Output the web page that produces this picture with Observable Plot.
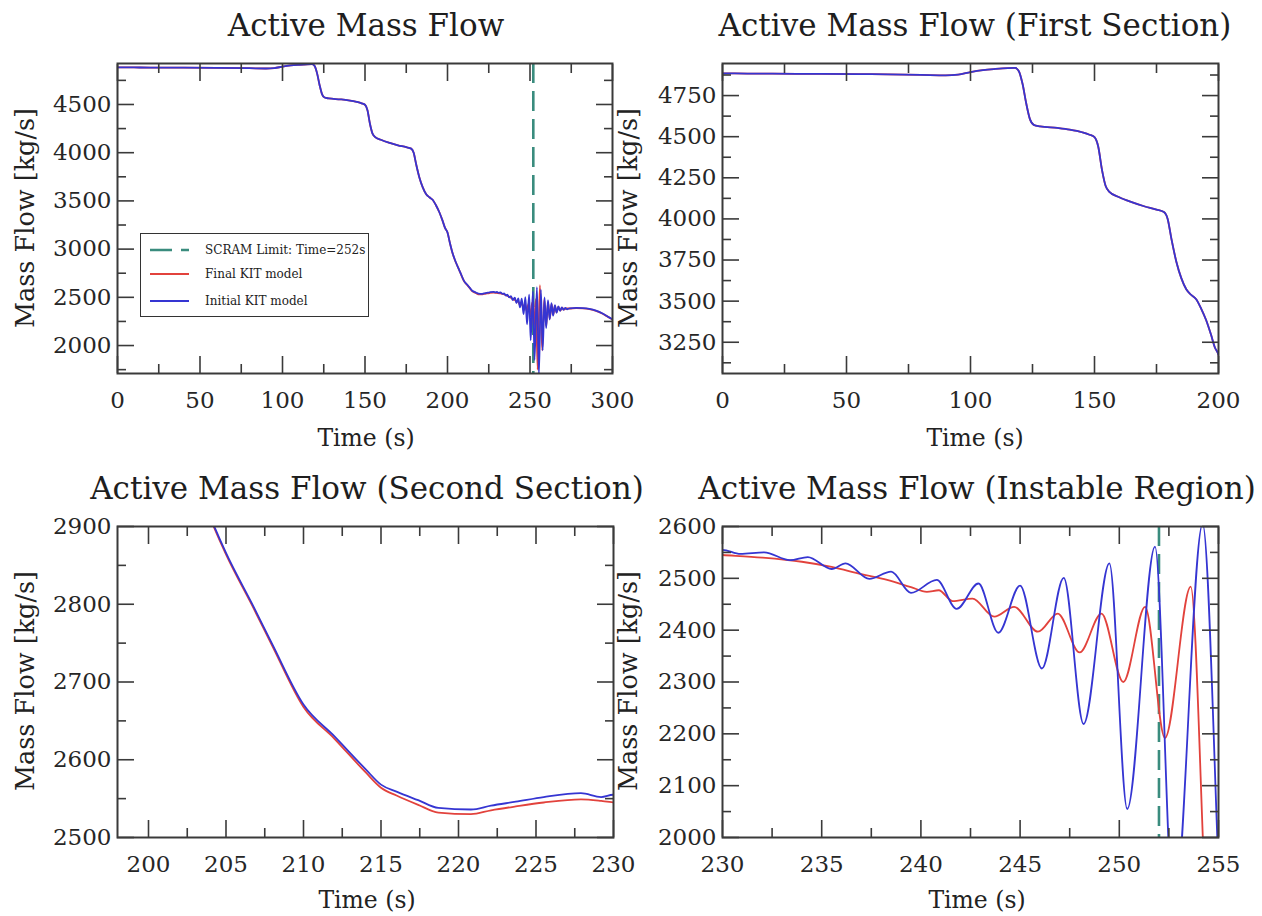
<!DOCTYPE html>
<html>
<head>
<meta charset="utf-8">
<script src="https://cdn.jsdelivr.net/npm/d3@7"></script>
<script src="https://cdn.jsdelivr.net/npm/@observablehq/plot@0.6"></script>
<style>
  html, body { margin: 0; padding: 0; background: #fff; }
  body { width: 1262px; height: 916px; position: relative; overflow: hidden; font-family: "DejaVu Serif", serif; color: #222; }
  .panel { position: absolute; }
  .title { position: absolute; font-size: 31px; line-height: 36px; white-space: nowrap; transform: translateX(-50%); color: #1e1e1e; }
  .xlabel { position: absolute; font-size: 23.5px; line-height: 28px; white-space: nowrap; transform: translate(-50%, -50%); color: #222; }
  .ylabel { position: absolute; font-size: 25.5px; line-height: 28px; white-space: nowrap; transform: translate(-50%, -50%) rotate(-90deg); color: #222; }
  .legend { position: absolute; left: 140px; top: 233px; width: 229px; height: 84px; border: 1.5px solid #333; background: #fff; box-sizing: border-box; font-size: 12px; color: #222; }
  .legend .row { position: absolute; left: 8px; height: 16px; display: flex; align-items: center; white-space: nowrap; }
  .legend svg { margin-right: 16px; }
</style>
</head>
<body>
<script>
// ---------- data ----------
const scramTime = 252;

const initialTime = [
  0, 10, 20, 40, 60, 80, 90, 95, 100, 105,
  110, 115, 118, 119.5, 121, 122.5, 124, 125.5, 128, 135,
  140, 145, 148, 150, 151.5, 153, 154.5, 156, 160, 165,
  170, 175, 178, 179.5, 181, 183, 185, 187, 189, 191,
  193, 195, 197, 198.5, 200, 201.5, 203, 204.2, 205, 206.8,
  208, 210, 212, 214, 215, 216, 217.4, 218.7, 220.8, 222.1,
  223.7, 225.5, 227.9, 229.2, 230, 230.9, 232.1, 233.4, 234.3, 235.5,
  236.2, 237.4, 238.5, 239.5, 240.8, 241.8, 242.9, 243.9, 245.0, 246.1,
  247.2, 248.2, 249.5, 250.4, 251.8, 252.75, 254.2, 255.4, 256.6, 257.7,
  258.8, 259.8, 260.9, 261.9, 263, 264, 265.1, 266.1, 267.2, 268.2,
  269.3, 270.3, 271.4, 272.5, 274, 278, 282, 286, 290, 294,
  297, 300
];
const initialFlow = [
  4885, 4884, 4883, 4882, 4880, 4876, 4873, 4877, 4893, 4905,
  4912, 4917, 4918, 4898, 4820, 4700, 4605, 4572, 4563, 4553,
  4543, 4527, 4512, 4497, 4440, 4300, 4200, 4165, 4132, 4102,
  4077, 4057, 4042, 4000, 3880, 3740, 3640, 3572, 3538, 3512,
  3455, 3385, 3295, 3220, 3172, 3060, 2962, 2902, 2866, 2796,
  2748, 2671, 2630, 2588, 2568, 2559, 2548, 2538, 2536, 2541,
  2546, 2552, 2557, 2552, 2555, 2547, 2550, 2535, 2541, 2518,
  2529, 2499, 2513, 2472, 2497, 2441, 2490, 2395, 2486, 2326,
  2501, 2219, 2529, 2055, 2561, 1850, 2605, 1700, 2580, 1950,
  2500, 2180, 2470, 2270, 2440, 2310, 2420, 2340, 2405, 2360,
  2395, 2370, 2390, 2376, 2386, 2390, 2388, 2380, 2362, 2332,
  2302, 2272
];

const finalTime = [
  0, 10, 20, 40, 60, 80, 90, 95, 100, 105,
  110, 115, 118, 119.5, 121, 122.5, 124, 125.5, 128, 135,
  140, 145, 148, 150, 151.5, 153, 154.5, 156, 160, 165,
  170, 175, 178, 179.5, 181, 183, 185, 187, 189, 191,
  193, 195, 197, 198.5, 200, 201.5, 203, 204.2, 205, 206.8,
  208, 210, 212, 214, 215, 216, 217.4, 218.7, 220.8, 222.1,
  223.7, 225.5, 227.9, 229.2, 230, 232, 234, 235.5, 237, 238.3,
  239.5, 240.3, 240.9, 241.6, 242.6, 243.7, 244.7, 245.9, 246.9, 248.0,
  249.1, 250.2, 251.3, 252.3, 253.6, 254.6, 256.0, 257.4, 258.6, 259.8,
  260.9, 262, 263.1, 264.1, 265.1, 266.1, 267.2, 268.4, 269.5, 270.6,
  272, 274, 278, 282, 286, 290, 294, 297, 300
];
const finalFlow = [
  4885, 4884, 4883, 4882, 4880, 4876, 4873, 4877, 4893, 4905,
  4912, 4917, 4918, 4898, 4820, 4700, 4605, 4572, 4563, 4553,
  4543, 4527, 4512, 4497, 4440, 4300, 4200, 4165, 4132, 4102,
  4077, 4057, 4042, 4000, 3880, 3740, 3640, 3572, 3538, 3512,
  3455, 3385, 3295, 3220, 3172, 3060, 2961, 2900, 2864, 2794,
  2746, 2668, 2627, 2584, 2564, 2554, 2542, 2532, 2530, 2535,
  2540, 2545, 2549, 2547, 2545, 2540, 2532, 2522, 2508, 2497,
  2483, 2474, 2477, 2456, 2461, 2426, 2445, 2397, 2432, 2357,
  2432, 2300, 2445, 2192, 2484, 1750, 2625, 1950, 2480, 2200,
  2450, 2280, 2430, 2320, 2412, 2345, 2400, 2362, 2392, 2372,
  2385, 2384, 2388, 2386, 2378, 2360, 2330, 2300, 2270
];

// tick values
const p1xMajor = [0, 50, 100, 150, 200, 250, 300];
const p1xMinor = [25, 75, 125, 175, 225, 275];
const p1yMajor = [2000, 2500, 3000, 3500, 4000, 4500];
const p1yMinor = [1750, 2250, 2750, 3250, 3750, 4250, 4750];
const p2xMajor = [0, 50, 100, 150, 200];
const p2xMinor = [25, 75, 125, 175];
const p2yMajor = [3250, 3500, 3750, 4000, 4250, 4500, 4750];
const p2yMinor = [3125, 3375, 3625, 3875, 4125, 4375, 4625, 4875];
const p3xMajor = [200, 205, 210, 215, 220, 225, 230];
const p3xMinor = [202.5, 207.5, 212.5, 217.5, 222.5, 227.5];
const p3yMajor = [2500, 2600, 2700, 2800, 2900];
const p3yMinor = [2550, 2650, 2750, 2850];
const p4xMajor = [230, 235, 240, 245, 250, 255];
const p4xMinor = [232.5, 237.5, 242.5, 247.5, 252.5];
const p4yMajor = [2000, 2100, 2200, 2300, 2400, 2500, 2600];
const p4yMinor = [2050, 2150, 2250, 2350, 2450, 2550];

const titles = [
  "Active Mass Flow",
  "Active Mass Flow (First Section)",
  "Active Mass Flow (Second Section)",
  "Active Mass Flow (Instable Region)"
];
const xLabel = "Time (s)";
const yLabel = "Mass Flow [kg/s]";
const legendLabels = ["SCRAM Limit: Time=252s", "Final KIT model", "Initial KIT model"];

// ---------- build ----------
const initialData = initialTime.map((t, i) => ({t, v: initialFlow[i]}));
const finalData = finalTime.map((t, i) => ({t, v: finalFlow[i]}));

const COLORS = {initial: "#3535d2", final: "#e2423c", scram: "#3a8c7e", axis: "#3a3a3a"};

function axes(xMajor, xMinor, yMajor, yMinor) {
  const t = {stroke: COLORS.axis, strokeWidth: 1.6, tickFormat: () => "", label: null};
  const marks = [];
  for (const a of ["bottom", "top"]) {
    marks.push(Plot.axisX({anchor: a, ticks: xMinor, tickSize: -9, ...t}));
    marks.push(Plot.axisX({anchor: a, ticks: xMajor, tickSize: -17, ...t}));
  }
  for (const a of ["left", "right"]) {
    marks.push(Plot.axisY({anchor: a, ticks: yMinor, tickSize: -9, ...t}));
    marks.push(Plot.axisY({anchor: a, ticks: yMajor, tickSize: -17, ...t}));
  }
  marks.push(Plot.axisX({anchor: "bottom", ticks: xMajor, tickSize: 0, tickPadding: 18, label: null, fill: "#262626", tickFormat: d => String(d)}));
  marks.push(Plot.axisY({anchor: "left", ticks: yMajor, tickSize: 0, tickPadding: 6, label: null, fill: "#262626", tickFormat: d => String(d)}));
  return marks;
}

function panel(cfg) {
  const marks = [];
  if (cfg.scram) {
    marks.push(Plot.ruleX([scramTime], {stroke: COLORS.scram, strokeWidth: 2.6, strokeDasharray: "20,8", clip: true}));
  }
  marks.push(Plot.line(finalData, {x: "t", y: "v", stroke: COLORS.final, strokeWidth: 1.8, curve: "monotone-x", clip: true}));
  marks.push(Plot.line(initialData, {x: "t", y: "v", stroke: COLORS.initial, strokeWidth: 1.8, curve: "monotone-x", clip: true}));
  marks.push(...axes(cfg.xMajor, cfg.xMinor, cfg.yMajor, cfg.yMinor));
  marks.push(Plot.frame({stroke: COLORS.axis, strokeWidth: 2}));
  const svg = Plot.plot({
    width: 631, height: 458,
    marginLeft: cfg.ml, marginRight: cfg.mr, marginTop: cfg.mt, marginBottom: cfg.mb,
    x: {domain: cfg.xDomain},
    y: {domain: cfg.yDomain},
    style: {fontFamily: '"DejaVu Serif", serif', fontSize: "23px", color: "#262626", background: "transparent", overflow: "visible"},
    marks
  });
  const div = document.createElement("div");
  div.className = "panel";
  div.style.left = cfg.left + "px";
  div.style.top = cfg.top + "px";
  div.appendChild(svg);
  document.body.appendChild(div);
}

const panels = [
  {left: 0, top: 0, ml: 117, mr: 19, mt: 63, mb: 85, xDomain: [0, 300], yDomain: [1710, 4925],
   xMajor: p1xMajor, xMinor: p1xMinor, yMajor: p1yMajor, yMinor: p1yMinor, scram: true,
   title: titles[0], cx: 366, ty: 7, xly: 438, ylx: 25, yly: 218},
  {left: 631, top: 0, ml: 91, mr: 44, mt: 63, mb: 85, xDomain: [0, 200], yDomain: [3060, 4945],
   xMajor: p2xMajor, xMinor: p2xMinor, yMajor: p2yMajor, yMinor: p2yMinor, scram: false,
   title: titles[1], cx: 975, ty: 7, xly: 438, ylx: 628, yly: 218},
  {left: 0, top: 458, ml: 117, mr: 18, mt: 68, mb: 79, xDomain: [198, 230], yDomain: [2500, 2900],
   xMajor: p3xMajor, xMinor: p3xMinor, yMajor: p3yMajor, yMinor: p3yMinor, scram: false,
   title: titles[2], cx: 367, ty: 470, xly: 900, ylx: 25, yly: 681},
  {left: 631, top: 458, ml: 91, mr: 44, mt: 68, mb: 79, xDomain: [230, 255], yDomain: [2000, 2600],
   xMajor: p4xMajor, xMinor: p4xMinor, yMajor: p4yMajor, yMinor: p4yMinor, scram: true,
   title: titles[3], cx: 977, ty: 470, xly: 900, ylx: 628, yly: 681}
];

for (const p of panels) {
  panel(p);
  const t = document.createElement("div");
  t.className = "title"; t.textContent = p.title;
  t.style.left = p.cx + "px"; t.style.top = p.ty + "px";
  document.body.appendChild(t);
  const xl = document.createElement("div");
  xl.className = "xlabel"; xl.textContent = xLabel;
  xl.style.left = p.cx + "px"; xl.style.top = p.xly + "px";
  document.body.appendChild(xl);
  const yl = document.createElement("div");
  yl.className = "ylabel"; yl.textContent = yLabel;
  yl.style.left = p.ylx + "px"; yl.style.top = p.yly + "px";
  document.body.appendChild(yl);
}

// legend (top-left panel)
const legend = document.createElement("div");
legend.className = "legend";
const swatches = [
  {color: COLORS.scram, dash: "22,9", width: 2.6},
  {color: COLORS.final, dash: null, width: 1.8},
  {color: COLORS.initial, dash: null, width: 1.8}
];
const rowTops = [8, 32, 59];
legendLabels.forEach((label, i) => {
  const row = document.createElement("div");
  row.className = "row";
  row.style.top = rowTops[i] + "px";
  const s = swatches[i];
  row.innerHTML = `<svg width="40" height="10"><line x1="1" y1="5" x2="40" y2="5" stroke="${s.color}" stroke-width="${s.width}" ${s.dash ? `stroke-dasharray="${s.dash}"` : ""}/></svg><span>${label}</span>`;
  legend.appendChild(row);
});
document.body.appendChild(legend);
</script>
</body>
</html>
